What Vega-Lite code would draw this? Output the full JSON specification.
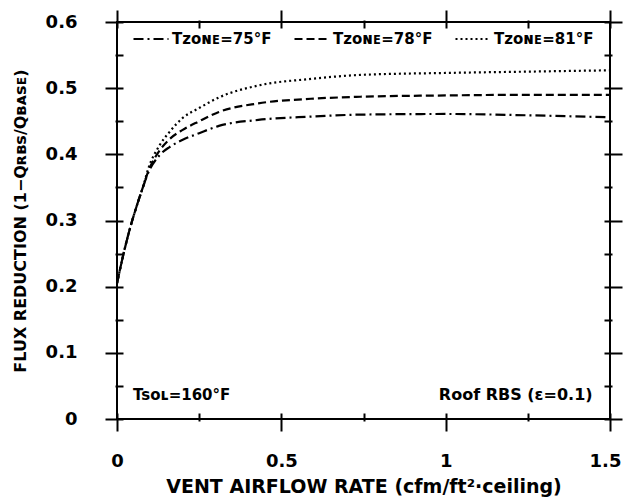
{
  "$schema": "https://vega.github.io/schema/vega-lite/v6.json",
  "width": 493,
  "height": 397,
  "autosize": "none",
  "padding": {"left": 117, "top": 22, "right": 14, "bottom": 80},
  "background": "white",
  "config": {
    "view": {"stroke": "black", "strokeWidth": 2},
    "font": "DejaVu Sans",
    "axis": {
      "domain": false,
      "grid": false,
      "tickColor": "black",
      "tickWidth": 2,
      "offset": -6,
      "labelFlush": false,
      "labelFont": "DejaVu Sans",
      "labelFontWeight": "bold",
      "labelFontSize": 18,
      "labelColor": "black",
      "titleFont": "DejaVu Sans",
      "titleFontWeight": "bold",
      "titleFontSize": 16,
      "titleColor": "black"
    }
  },
  "datasets": {
    "curves": [
      {"rate": 0, "flux": 0.205, "series": "Tᴢᴏɴᴇ=75°F"},
      {"rate": 0.02, "flux": 0.25, "series": "Tᴢᴏɴᴇ=75°F"},
      {"rate": 0.04, "flux": 0.289, "series": "Tᴢᴏɴᴇ=75°F"},
      {"rate": 0.06, "flux": 0.322, "series": "Tᴢᴏɴᴇ=75°F"},
      {"rate": 0.08, "flux": 0.352, "series": "Tᴢᴏɴᴇ=75°F"},
      {"rate": 0.095, "flux": 0.372, "series": "Tᴢᴏɴᴇ=75°F"},
      {"rate": 0.13, "flux": 0.399, "series": "Tᴢᴏɴᴇ=75°F"},
      {"rate": 0.16, "flux": 0.411, "series": "Tᴢᴏɴᴇ=75°F"},
      {"rate": 0.2, "flux": 0.422, "series": "Tᴢᴏɴᴇ=75°F"},
      {"rate": 0.25, "flux": 0.432, "series": "Tᴢᴏɴᴇ=75°F"},
      {"rate": 0.31, "flux": 0.443, "series": "Tᴢᴏɴᴇ=75°F"},
      {"rate": 0.43, "flux": 0.452, "series": "Tᴢᴏɴᴇ=75°F"},
      {"rate": 0.59, "flux": 0.457, "series": "Tᴢᴏɴᴇ=75°F"},
      {"rate": 0.74, "flux": 0.46, "series": "Tᴢᴏɴᴇ=75°F"},
      {"rate": 1.0, "flux": 0.461, "series": "Tᴢᴏɴᴇ=75°F"},
      {"rate": 1.25, "flux": 0.459, "series": "Tᴢᴏɴᴇ=75°F"},
      {"rate": 1.5, "flux": 0.456, "series": "Tᴢᴏɴᴇ=75°F"},
      {"rate": 0, "flux": 0.205, "series": "Tᴢᴏɴᴇ=78°F"},
      {"rate": 0.02, "flux": 0.25, "series": "Tᴢᴏɴᴇ=78°F"},
      {"rate": 0.04, "flux": 0.289, "series": "Tᴢᴏɴᴇ=78°F"},
      {"rate": 0.06, "flux": 0.322, "series": "Tᴢᴏɴᴇ=78°F"},
      {"rate": 0.08, "flux": 0.352, "series": "Tᴢᴏɴᴇ=78°F"},
      {"rate": 0.095, "flux": 0.374, "series": "Tᴢᴏɴᴇ=78°F"},
      {"rate": 0.13, "flux": 0.406, "series": "Tᴢᴏɴᴇ=78°F"},
      {"rate": 0.16, "flux": 0.423, "series": "Tᴢᴏɴᴇ=78°F"},
      {"rate": 0.2, "flux": 0.437, "series": "Tᴢᴏɴᴇ=78°F"},
      {"rate": 0.25, "flux": 0.45, "series": "Tᴢᴏɴᴇ=78°F"},
      {"rate": 0.31, "flux": 0.464, "series": "Tᴢᴏɴᴇ=78°F"},
      {"rate": 0.43, "flux": 0.477, "series": "Tᴢᴏɴᴇ=78°F"},
      {"rate": 0.59, "flux": 0.484, "series": "Tᴢᴏɴᴇ=78°F"},
      {"rate": 0.74, "flux": 0.487, "series": "Tᴢᴏɴᴇ=78°F"},
      {"rate": 1.0, "flux": 0.489, "series": "Tᴢᴏɴᴇ=78°F"},
      {"rate": 1.25, "flux": 0.49, "series": "Tᴢᴏɴᴇ=78°F"},
      {"rate": 1.5, "flux": 0.49, "series": "Tᴢᴏɴᴇ=78°F"},
      {"rate": 0, "flux": 0.205, "series": "Tᴢᴏɴᴇ=81°F"},
      {"rate": 0.02, "flux": 0.25, "series": "Tᴢᴏɴᴇ=81°F"},
      {"rate": 0.04, "flux": 0.289, "series": "Tᴢᴏɴᴇ=81°F"},
      {"rate": 0.06, "flux": 0.322, "series": "Tᴢᴏɴᴇ=81°F"},
      {"rate": 0.08, "flux": 0.352, "series": "Tᴢᴏɴᴇ=81°F"},
      {"rate": 0.095, "flux": 0.378, "series": "Tᴢᴏɴᴇ=81°F"},
      {"rate": 0.13, "flux": 0.414, "series": "Tᴢᴏɴᴇ=81°F"},
      {"rate": 0.16, "flux": 0.434, "series": "Tᴢᴏɴᴇ=81°F"},
      {"rate": 0.2, "flux": 0.455, "series": "Tᴢᴏɴᴇ=81°F"},
      {"rate": 0.25, "flux": 0.47, "series": "Tᴢᴏɴᴇ=81°F"},
      {"rate": 0.31, "flux": 0.486, "series": "Tᴢᴏɴᴇ=81°F"},
      {"rate": 0.43, "flux": 0.504, "series": "Tᴢᴏɴᴇ=81°F"},
      {"rate": 0.59, "flux": 0.514, "series": "Tᴢᴏɴᴇ=81°F"},
      {"rate": 0.74, "flux": 0.52, "series": "Tᴢᴏɴᴇ=81°F"},
      {"rate": 1.0, "flux": 0.523, "series": "Tᴢᴏɴᴇ=81°F"},
      {"rate": 1.25, "flux": 0.525, "series": "Tᴢᴏɴᴇ=81°F"},
      {"rate": 1.5, "flux": 0.527, "series": "Tᴢᴏɴᴇ=81°F"}
    ],
    "noteLeft": [{"rate": 0.049, "flux": 0.029, "text": "Tsᴏʟ=160°F"}],
    "noteRight": [{"rate": 1.447, "flux": 0.029, "text": "Roof RBS (ε=0.1)"}]
  },
  "layer": [
    {
      "data": {"name": "curves"},
      "mark": {"type": "line", "interpolate": "monotone", "strokeWidth": 2.2, "color": "black"},
      "encoding": {
        "x": {
          "field": "rate", "type": "quantitative",
          "scale": {"domain": [0, 1.5], "nice": false, "zero": false},
          "axis": {
            "orient": "bottom",
            "title": "VENT AIRFLOW RATE (cfm/ft²·ceiling)",
            "titleFontSize": 19,
            "values": [0, 0.25, 0.5, 0.75, 1, 1.25, 1.5],
            "format": "~g",
            "labelExpr": "round(datum.value*100) % 50 === 0 ? datum.label : ''",
            "labelOffset": {"condition": {"test": "datum.value === 1.5", "value": -5}, "value": 0},
            "tickSize": {"condition": {"test": "round(datum.value*100) % 50 === 0", "value": 18}, "value": 8},
            "labelPadding": 21,
            "titlePadding": 7
          }
        },
        "y": {
          "field": "flux", "type": "quantitative",
          "scale": {"domain": [0, 0.6], "nice": false},
          "axis": {
            "orient": "left",
            "title": "FLUX REDUCTION (1−Qʀʙs/Qʙᴀsᴇ)",
            "values": [0, 0.05, 0.1, 0.15, 0.2, 0.25, 0.3, 0.35, 0.4, 0.45, 0.5, 0.55, 0.6],
            "format": "~g",
            "labelExpr": "round(datum.value*100) % 10 === 0 ? datum.label : ''",
            "tickSize": {"condition": {"test": "round(datum.value*100) % 10 === 0", "value": 18}, "value": 8},
            "labelPadding": 28,
            "titlePadding": 17
          }
        },
        "strokeDash": {
          "field": "series", "type": "nominal",
          "scale": {
            "domain": ["Tᴢᴏɴᴇ=75°F", "Tᴢᴏɴᴇ=78°F", "Tᴢᴏɴᴇ=81°F"],
            "range": [[10, 4, 2, 4], [8, 4], [2, 3]]
          },
          "legend": {
            "orient": "none",
            "legendX": 15,
            "legendY": -2,
            "direction": "horizontal",
            "title": null,
            "padding": 0,
            "symbolType": "stroke",
            "symbolSize": 1225,
            "symbolStrokeWidth": 2.2,
            "symbolStrokeColor": "black",
            "labelFont": "DejaVu Sans",
            "labelFontWeight": "bold",
            "labelFontSize": 15,
            "labelColor": "black",
            "labelOffset": 2,
            "columnPadding": 18
          }
        }
      }
    },
    {
      "data": {"name": "noteLeft"},
      "mark": {"type": "text", "align": "left", "baseline": "alphabetic", "fontSize": 15, "fontWeight": "bold", "font": "DejaVu Sans", "color": "black"},
      "encoding": {
        "x": {
          "field": "rate", "type": "quantitative",
          "axis": {
            "orient": "top", "title": null,
            "values": [0, 0.25, 0.5, 0.75, 1, 1.25, 1.5],
            "labels": false,
            "tickSize": {"condition": {"test": "round(datum.value*100) % 50 === 0", "value": 18}, "value": 8}
          }
        },
        "y": {
          "field": "flux", "type": "quantitative",
          "axis": {
            "orient": "right", "title": null,
            "values": [0, 0.05, 0.1, 0.15, 0.2, 0.25, 0.3, 0.35, 0.4, 0.45, 0.5, 0.55, 0.6],
            "labels": false,
            "tickSize": {"condition": {"test": "round(datum.value*100) % 10 === 0", "value": 18}, "value": 8}
          }
        },
        "text": {"field": "text"}
      }
    },
    {
      "data": {"name": "noteRight"},
      "mark": {"type": "text", "align": "right", "baseline": "alphabetic", "fontSize": 16, "fontWeight": "bold", "font": "DejaVu Sans", "color": "black"},
      "encoding": {
        "x": {"field": "rate", "type": "quantitative", "axis": null},
        "y": {"field": "flux", "type": "quantitative", "axis": null},
        "text": {"field": "text"}
      }
    }
  ],
  "resolve": {"axis": {"x": "independent", "y": "independent"}}
}
